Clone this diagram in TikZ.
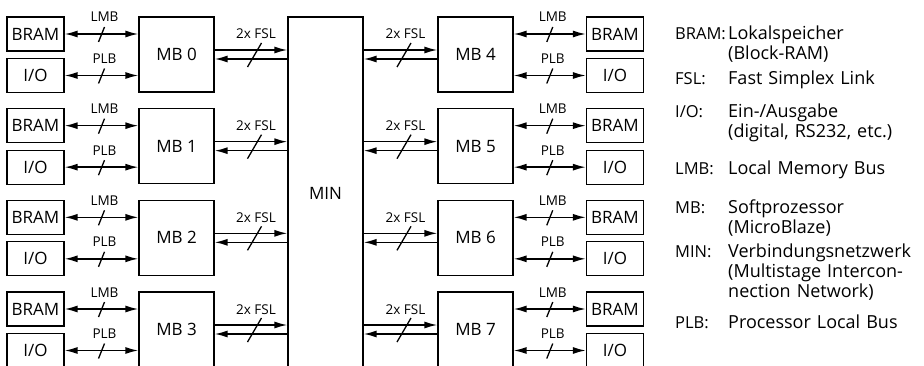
\documentclass[tikz,border=0pt]{standalone}
\usepackage{fontspec}
\setmainfont{Open Sans}
\usetikzlibrary{arrows.meta,positioning}

\tikzset{
  box/.style={draw, line width=1.3pt, inner sep=0pt, font=\fontsize{17}{20}\selectfont},
  mem/.style={box, minimum width=57pt, minimum height=34pt},
  proc/.style={box, minimum width=75pt, minimum height=75pt},
  bus/.style={line width=1.5pt},
  cut/.style={line width=1.3pt},
  lbl/.style={font=\fontsize{13.5}{16}\selectfont, anchor=base, inner sep=0pt, yshift=12pt},
  keyname/.style={font=\fontsize{16.5}{20}\selectfont, anchor=base west, inner sep=0pt},
  keydef/.style={keyname, font=\fontsize{18}{20}\selectfont, text width=195pt, align=left},
}

\begin{document}
\begin{tikzpicture}[x=1pt, y=-1pt, >={Latex[length=13pt,width=7pt]}]
\useasboundingbox (0,0) rectangle (924,366);

\node[box, minimum width=75pt, minimum height=352pt] (min) at (325.5,193) {MIN};

\foreach \i in {0,...,3} {
  \pgfmathsetmacro{\dy}{91.67*\i}
  \pgfmathtruncatemacro{\j}{\i+4}
  % left half
  \node[proc] (mb\i) at (176.5,54.5+\dy) {MB \i};
  \node[mem] (bram\i) at (35.5,34+\dy) {BRAM};
  \node[mem] (io\i) at (35.5,75.5+\dy) {I/O};
  \draw[bus,<->] (bram\i.east) -- (bram\i.east -| mb\i.west) coordinate[midway] (lmb\i) node[midway,lbl,xshift=3pt] {LMB};
  \draw[cut] (lmb\i) ++(-3,8) -- ++(6,-15);
  \draw[bus,<->] (io\i.east) -- (io\i.east -| mb\i.west) coordinate[midway] (plb\i) node[midway,lbl,xshift=3pt] {PLB};
  \draw[cut] (plb\i) ++(-3,8) -- ++(6,-15);
  \draw[bus,->] ([yshift=4.5pt]mb\i.east) -- ([yshift=4.5pt]mb\i.east -| min.west) coordinate[midway] (fsl\i) node[midway,lbl,yshift=-1pt,xshift=5pt] {2x FSL};
  \draw[bus,<-] ([yshift=-4.5pt]mb\i.east) -- ([yshift=-4.5pt]mb\i.east -| min.west);
  \draw[cut] (fsl\i) ++(-3.5,17) -- ++(14,-24);
  % right half
  \node[proc] (mb\j) at (475.5,54.5+\dy) {MB \j};
  \node[mem] (bram\j) at (615,34+\dy) {BRAM};
  \node[mem] (io\j) at (615,75.5+\dy) {I/O};
  \draw[bus,<->] (mb\j.east |- bram\j.west) -- (bram\j.west) coordinate[midway] (lmb\j) node[midway,lbl,xshift=3pt] {LMB};
  \draw[cut] (lmb\j) ++(-3,8) -- ++(6,-15);
  \draw[bus,<->] (mb\j.east |- io\j.west) -- (io\j.west) coordinate[midway] (plb\j) node[midway,lbl,xshift=3pt] {PLB};
  \draw[cut] (plb\j) ++(-3,8) -- ++(6,-15);
  \draw[bus,->] ([yshift=4.5pt]min.east |- mb\j.west) -- ([yshift=4.5pt]mb\j.west) coordinate[midway] (fsl\j) node[midway,lbl,yshift=-1pt,xshift=5pt] {2x FSL};
  \draw[bus,<-] ([yshift=-4.5pt]min.east |- mb\j.west) -- ([yshift=-4.5pt]mb\j.west);
  \draw[cut] (fsl\j) ++(-3.5,17) -- ++(14,-24);
}

% legend
\node[keyname] (kbram) at (675,40) {BRAM:};
\node[keydef] (dbram) at (728,40) {Lokalspeicher\\(Block-RAM)};
\node[keyname] (kfsl) at (675,85) {FSL:};
\node[keydef] (dfsl) at (728,85) {Fast Simplex Link};
\node[keyname] (kio) at (675,118) {I/O:};
\node[keydef] (dio) at (728,118) {Ein-/Ausgabe\\(digital, RS232, etc.)};
\node[keyname] (klmb) at (675,175) {LMB:};
\node[keydef] (dlmb) at (728,175) {Local Memory Bus};
\node[keyname] (kmb) at (675,214) {MB:};
\node[keydef] (dmb) at (728,214) {Softprozessor\\(MicroBlaze)};
\node[keyname] (kmin) at (675,258) {MIN:};
\node[keydef] (dmin) at (728,258) {Verbindungsnetzwerk\\(Multistage Intercon-\\nection Network)};
\node[keyname] (kplb) at (675,328) {PLB:};
\node[keydef] (dplb) at (728,328) {Processor Local Bus};
\end{tikzpicture}
\end{document}
